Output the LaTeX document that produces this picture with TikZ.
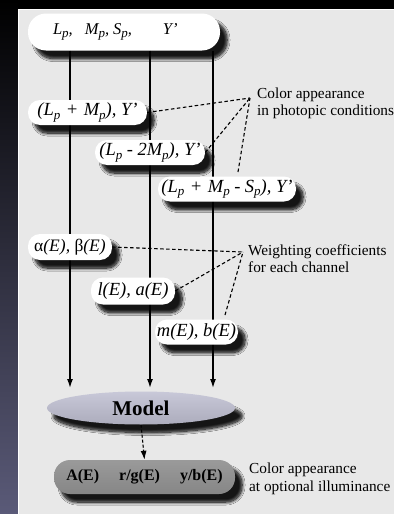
\documentclass[tikz,border=0pt]{standalone}
\usepackage{fontspec}
\setmainfont{Liberation Serif}
\usetikzlibrary{shadows.blur,arrows.meta,shapes.geometric}
\definecolor{panel}{HTML}{E8E8E8}
\definecolor{slate}{HTML}{5A5A78}
\definecolor{modeltop}{HTML}{C8C8D8}
\definecolor{modelbot}{HTML}{ACACBC}
\definecolor{outtop}{HTML}{9A9A9A}
\definecolor{outbot}{HTML}{868686}
\newcommand\psub{\raisebox{-3.5pt}{\fontsize{13}{13}\selectfont\itshape p}}
\newcommand\pls{\hspace{5.5pt}+\hspace{5.5pt}}
\newcommand\mns{\hspace{4.5pt}-\hspace{4.5pt}}
\begin{document}
\begin{tikzpicture}[x=1pt,y=-1pt,
  shad/.style={blur shadow={shadow xshift=8pt,shadow yshift=-9pt,shadow blur radius=5pt,shadow blur steps=15,shadow opacity=100},
               blur shadow={shadow xshift=7pt,shadow yshift=-8pt,shadow blur radius=3pt,shadow blur steps=10,shadow opacity=70}},
  pill/.style={shad, fill=white, rectangle, rounded corners=12pt, inner sep=0pt, minimum height=25pt,
    font=\fontsize{18.5}{20}\selectfont\itshape},
  modelnode/.style={shad, ellipse, top color=modeltop, bottom color=modelbot, minimum width=188pt, minimum height=33pt,
    inner sep=0pt, font=\fontsize{21}{24}\selectfont\bfseries},
  outnode/.style={shad, rectangle, rounded corners=16pt, top color=outtop, bottom color=outbot, minimum width=181pt,
    minimum height=34pt, inner sep=0pt, font=\fontsize{16}{18}\selectfont\bfseries},
  lbl/.style={anchor=west, align=left, inner sep=0pt, font=\fontsize{15.3}{17.5}\selectfont},
  flow/.style={line width=1.4pt, -{Latex[length=9pt,width=6pt]}},
  dline/.style={line width=1.1pt, dash pattern=on 3.5pt off 2.5pt},
]
\useasboundingbox (0,0) rectangle (394,514);
\clip (0,0) rectangle (394,514);
% background
\fill[black] (0,0) rectangle (394,514);
\shade[top color=black, bottom color=slate] (0,0) rectangle (18,514);
\fill[panel] (18,9) rectangle (394,514);
\draw[white, line width=1pt] (18.5,514) -- (18.5,9.5) -- (394,9.5);

% coordinates
\coordinate (t1) at (70,388);
\coordinate (t2) at (150,388);
\coordinate (t3) at (213,388);
\coordinate (v1) at (250,98);
\coordinate (v2) at (243,252);
\coordinate (c3) at (238,172);
\coordinate (c6) at (225,315);

% top node
\node[pill, minimum width=192pt, minimum height=37pt, rounded corners=18pt, font=\fontsize{16.5}{19}\selectfont\itshape] (top) at (124,32)
  {\makebox[142pt][l]{\makebox[32pt][l]{L\psub,}\makebox[28pt][l]{M\psub,}\makebox[50pt][l]{S\psub,}Y'}};

% vertical flows
\draw[flow] (top.south -| t1) -- (t1);
\draw[flow] (top.south -| t2) -- (t2);
\draw[flow] (top.south -| t3) -- (t3);

% channel nodes
\node[pill, minimum width=119pt] (n1) at (87.5,112.5) {(L\psub\pls M\psub), Y'};
\node[pill, minimum width=110pt] (n2) at (150,152.5) {(L\psub\mns 2M\psub), Y'};
\node[pill, minimum width=138pt] (n3) at (227,189) {(L\psub\pls M\psub\mns S\psub), Y'};
\node[pill, minimum width=84pt, minimum height=26pt, font=\fontsize{17.5}{19}\selectfont\itshape] (a1) at (70,247) {{\upshape α}(E), {\upshape β}(E)};
\node[pill, minimum width=84pt, minimum height=27pt] (a2) at (133,291) {l(E), a(E)};
\node[pill, minimum width=83pt] (a3) at (196.5,332) {m(E), b(E)};

% model and output
\node[modelnode] (model) at (141,408) {Model};
\node[outnode] (out) at (144.5,477) {A(E)\hspace{20pt}r/g(E)\hspace{20pt}y/b(E)};
\draw[line width=1.1pt, dash pattern=on 3pt off 2pt, -{Latex[length=9pt,width=6pt]}] (model.south) -- (out.north);

% dashed annotation lines
\draw[dline] (n1.east) -- (v1);
\draw[dline] (n2.east) -- (v1);
\draw[dline] (c3) -- (v1);
\draw[dline] (a1.east) -- (v2);
\draw[dline] (a2.east) -- (v2);
\draw[dline] (c6) -- (v2);

% labels
\node[lbl] (l1) at (257,103.5) {Color appearance\\in photopic conditions};
\node[lbl] (l2) at (248,258.5) {Weighting coefficients\\for each channel};
\node[lbl] (l3) at (249,479) {Color appearance\\at optional illuminance};
\end{tikzpicture}
\end{document}
